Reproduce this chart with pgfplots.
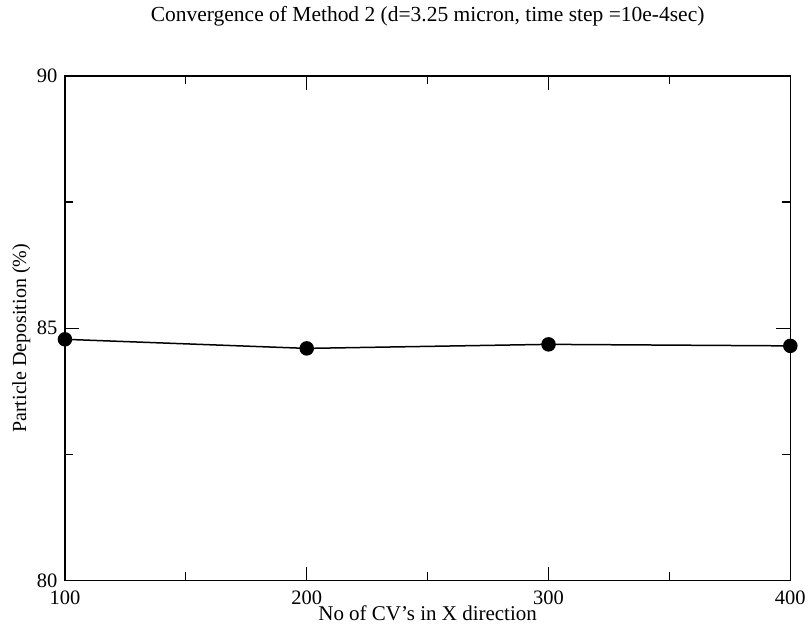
\documentclass[border=0pt]{standalone}
\usepackage{pgfplots}
\pgfplotsset{compat=1.18}
\usepackage{fontspec}
\setmainfont{Liberation Serif}
\begin{document}
\begin{tikzpicture}
\begin{axis}[
  scale only axis,
  width=726pt, height=505pt,
  xmin=100, xmax=400, ymin=80, ymax=90,
  xtick={100,200,300,400},
  ytick={80,85,90},
  minor x tick num=1,
  minor y tick num=1,
  tick align=inside,
  major tick length=14pt,
  minor tick length=8pt,
  axis line style={line width=1.4pt},
  every tick/.style={black, line width=1.2pt},
  /pgf/number format/assume math mode=true,
  /pgf/number format/1000 sep={},
  tick label style={font=\fontsize{20.5}{24}\selectfont},
  xticklabel style={yshift=-7pt},
  yticklabel style={xshift=-4pt},
  title={Convergence of Method 2 (d=3.25 micron, time step =10e-4sec)},
  title style={font=\fontsize{21.5}{25}\selectfont, at={(axis description cs:0.5,1)}, anchor=center, yshift=54pt},
  xlabel={No of CV's in X direction},
  xlabel style={font=\fontsize{21}{25}\selectfont, at={(axis description cs:0.5,0)}, anchor=center, yshift=-33pt},
  ylabel={Particle Deposition (\%)},
  ylabel style={font=\fontsize{20}{24}\selectfont, at={(axis description cs:-0.06,0.48)}, anchor=center},
]
\addplot[black, line width=1.5pt, mark=*, mark size=6.5pt, mark options={solid, fill=black}]
  coordinates {(100,84.78) (200,84.60) (300,84.68) (400,84.65)};
\end{axis}
\path (current axis.south west) ++(-65pt,-53pt) coordinate (bbA);
\path (current axis.north east) ++(18pt,76pt) coordinate (bbB);
\path[use as bounding box] (bbA) rectangle (bbB);
\end{tikzpicture}
\end{document}
